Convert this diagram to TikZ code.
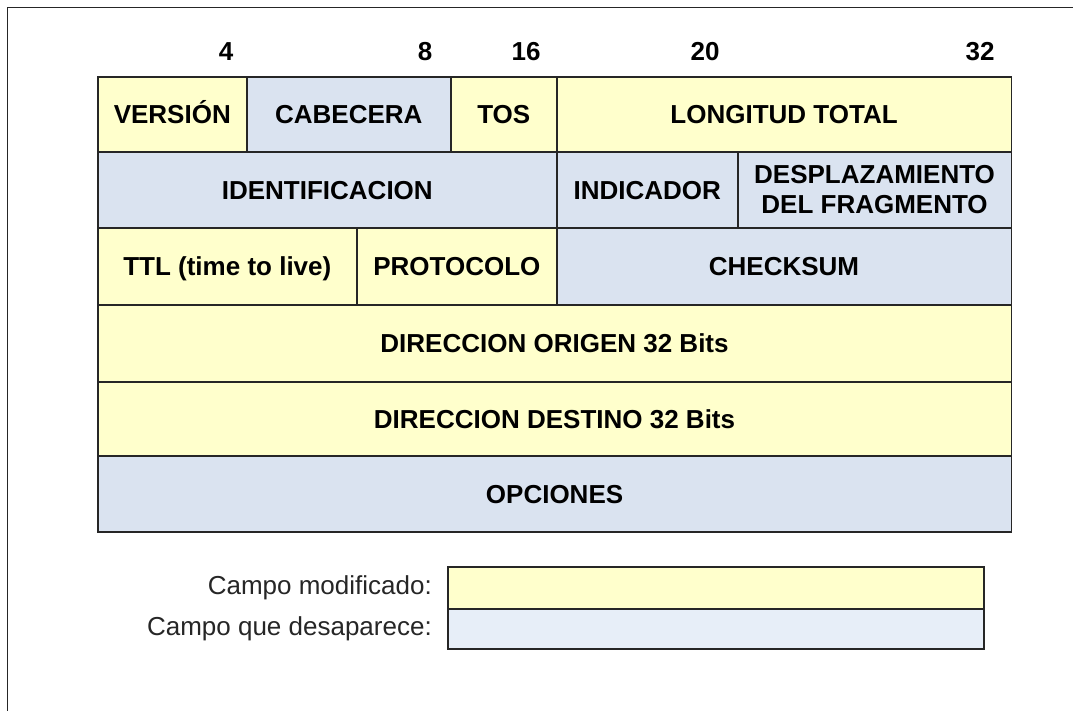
\documentclass[tikz,border=0pt]{standalone}
\usepackage{fontspec}
\setmainfont{Liberation Sans}
\definecolor{fy}{HTML}{FFFFCC}
\definecolor{fb}{HTML}{DAE3F0}
\definecolor{fl}{HTML}{E7EEF8}
\definecolor{ln}{HTML}{262626}
\tikzset{
  cellbase/.style={draw=ln, line width=1.6pt, inner sep=0pt, anchor=north west, align=center,
    font=\fontsize{26}{30}\selectfont\bfseries},
  cell/.style={cellbase, text height=18.6pt, text depth=0pt},
  yc/.style={cell, fill=fy},
  bc/.style={cell, fill=fb},
  bitnum/.style={font=\fontsize{26}{30}\selectfont\bfseries, inner sep=0pt, text height=18.6pt, text depth=0pt},
  legtext/.style={font=\fontsize{26}{30}\selectfont, text=black!85, inner sep=0pt, anchor=east,
    text height=18.6pt, text depth=0pt},
  legbox/.style={draw=ln, line width=1.6pt, inner sep=0pt, anchor=north west}
}
\begin{document}
\begin{tikzpicture}[x=1pt,y=-1pt]
\useasboundingbox (0,0) rectangle (1073,711);
\begin{scope}
\clip (0,0) rectangle (1073,711);
\draw[line width=1.6pt, draw=ln] (7.5,730) -- (7.5,7.5) -- (1090,7.5);
\end{scope}
% bit numbers
\node[bitnum] (n4) at (226,51) {4};
\node[bitnum] (n8) at (425,51) {8};
\node[bitnum] (n16) at (526,51) {16};
\node[bitnum] (n20) at (705,51) {20};
\node[bitnum] (n32) at (980,51) {32};
% row 1
\node[yc, minimum width=149pt, minimum height=75pt] (ver) at (97,76) {VERSIÓN};
\node[bc, minimum width=204pt, minimum height=75pt] (cab) at (246,76) {CABECERA};
\node[yc, minimum width=106pt, minimum height=75pt] (tos) at (450,76) {TOS};
\node[yc, minimum width=454.5pt, minimum height=75pt] (lon) at (556,76) {LONGITUD TOTAL};
% row 2
\node[bc, minimum width=459pt, minimum height=76pt] (ide) at (97,151) {IDENTIFICACION};
\node[bc, minimum width=181pt, minimum height=76pt] (ind) at (556,151) {INDICADOR};
\node[cellbase, fill=fb, minimum width=273.5pt, minimum height=76pt] (des) at (737,151) {DESPLAZAMIENTO\\DEL FRAGMENTO};
% row 3
\node[yc, minimum width=259pt, minimum height=77pt] (ttl) at (97,227) {TTL (time to live)};
\node[yc, minimum width=200pt, minimum height=77pt] (pro) at (356,227) {PROTOCOLO};
\node[bc, minimum width=454.5pt, minimum height=77pt] (chk) at (556,227) {CHECKSUM};
% rows 4-6
\node[yc, minimum width=913.5pt, minimum height=77pt] (ori) at (97,304) {DIRECCION ORIGEN 32 Bits};
\node[yc, minimum width=913.5pt, minimum height=74pt] (dst) at (97,381) {DIRECCION DESTINO 32 Bits};
\node[bc, minimum width=913.5pt, minimum height=76pt] (opc) at (97,455) {OPCIONES};
% legend
\node[legbox, fill=fy, minimum width=536pt, minimum height=42pt] (lmod) at (447,566) {};
\node[legbox, fill=fl, minimum width=536pt, minimum height=40pt] (ldes) at (447,608) {};
\node[legtext] (tmod) at (432,585) {Campo modificado:};
\node[legtext] (tdes) at (432,626) {Campo que desaparece:};
\end{tikzpicture}
\end{document}
